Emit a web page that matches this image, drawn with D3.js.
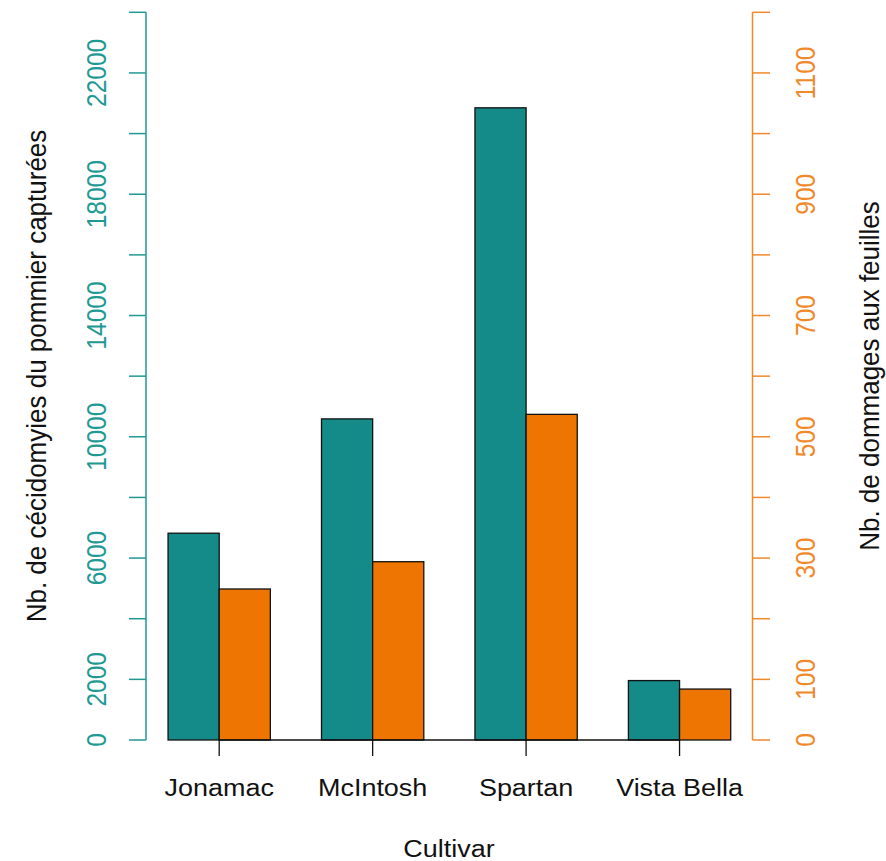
<!DOCTYPE html>
<html><head><meta charset="utf-8">
<script src="https://cdn.jsdelivr.net/npm/d3@7"></script>
<style>body{margin:0;background:#fff;} text{font-family:"Liberation Sans",Arial,sans-serif;}</style>
</head><body>
<svg id="c" width="886" height="861"></svg>
<script>
const categories = ["Jonamac","McIntosh","Spartan","Vista Bella"];
const midges = [6820, 10590, 20850, 1960];
const damage = [249, 294, 537, 84];
const leftTicks = d3.range(0, 24001, 2000);
const leftLabels = [0,2000,6000,10000,14000,18000,22000];
const rightTicks = d3.range(0, 1201, 100);
const rightLabels = [0,100,300,500,700,900,1100];

const teal = "#148b88", orange = "#ef7503";
const tealAxis = "#1f9994", orangeAxis = "#f0892a";
const fs = 24.5, sx = 1.1, tfs = 26, tsx = 1.04;

const svg = d3.select("#c");
const yL = d3.scaleLinear().domain([0,24000]).range([740, 12.3]);
const yR = d3.scaleLinear().domain([0,1200]).range([740, 12.3]);
const x = d3.scaleLinear().domain([0,12]).range([116.9, 730.7]);

// bars
const g = svg.append("g");
categories.forEach((c,i)=>{
  const u = 1 + 3*i;
  g.append("rect").attr("x", x(u)).attr("width", x(u+1)-x(u))
    .attr("y", yL(midges[i])).attr("height", yL(0)-yL(midges[i]))
    .attr("fill", teal).attr("stroke","#111").attr("stroke-width",1.3);
  g.append("rect").attr("x", x(u+1)).attr("width", x(u+2)-x(u+1))
    .attr("y", yR(damage[i])).attr("height", yR(0)-yR(damage[i]))
    .attr("fill", orange).attr("stroke","#111").attr("stroke-width",1.3);
});

// x axis
const xa = svg.append("g");
const centers = categories.map((c,i)=>x(2+3*i));
xa.append("line").attr("x1",centers[0]).attr("x2",centers[3]).attr("y1",740).attr("y2",740)
  .attr("stroke","#111").attr("stroke-width",1.3);
categories.forEach((c,i)=>{
  xa.append("line").attr("x1",centers[i]).attr("x2",centers[i]).attr("y1",740).attr("y2",756)
    .attr("stroke","#111").attr("stroke-width",1.3);
  xa.append("text").attr("transform",`translate(${centers[i]},796) scale(${sx},1)`)
    .attr("text-anchor","middle").attr("font-size",fs).attr("fill","#111").text(c);
});
svg.append("text").attr("transform",`translate(449,857) scale(${sx},1)`)
  .attr("text-anchor","middle").attr("font-size",fs).attr("fill","#111").text("Cultivar");

// left axis
const la = svg.append("g");
la.append("line").attr("x1",146).attr("x2",146).attr("y1",yL(0)).attr("y2",yL(24000))
  .attr("stroke",tealAxis).attr("stroke-width",1.5);
leftTicks.forEach(t=>{
  la.append("line").attr("x1",129).attr("x2",146).attr("y1",yL(t)).attr("y2",yL(t))
    .attr("stroke",tealAxis).attr("stroke-width",1.5);
});
leftLabels.forEach(t=>{
  la.append("text").attr("transform",`translate(106,${yL(t)}) scale(${sx},1) rotate(-90)`)
    .attr("text-anchor","middle").attr("font-size",fs).attr("fill",tealAxis).text(t);
});
svg.append("text").attr("transform",`translate(46,376) scale(${tsx},1) rotate(-90)`)
  .attr("text-anchor","middle").attr("font-size",tfs).attr("fill","#111")
  .text("Nb. de cécidomyies du pommier capturées");

// right axis
const ra = svg.append("g");
ra.append("line").attr("x1",752.5).attr("x2",752.5).attr("y1",yR(0)).attr("y2",yR(1200))
  .attr("stroke",orangeAxis).attr("stroke-width",1.5);
rightTicks.forEach(t=>{
  ra.append("line").attr("x1",752.5).attr("x2",770).attr("y1",yR(t)).attr("y2",yR(t))
    .attr("stroke",orangeAxis).attr("stroke-width",1.5);
});
rightLabels.forEach(t=>{
  ra.append("text").attr("transform",`translate(815,${yR(t)}) scale(${sx},1) rotate(-90)`)
    .attr("text-anchor","middle").attr("font-size",fs).attr("fill",orangeAxis).text(t);
});
svg.append("text").attr("transform",`translate(879,376) scale(${tsx},1) rotate(-90)`)
  .attr("text-anchor","middle").attr("font-size",tfs).attr("fill","#111")
  .text("Nb. de dommages aux feuilles");
</script>
</body></html>
